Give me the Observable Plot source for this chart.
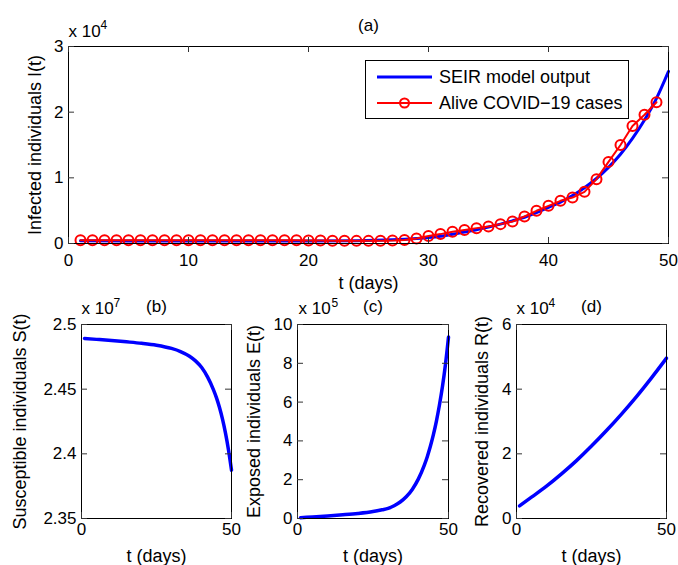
<!DOCTYPE html>
<html>
<head>
<meta charset="utf-8">
<script src="https://cdn.jsdelivr.net/npm/d3@7"></script>
<script src="https://cdn.jsdelivr.net/npm/@observablehq/plot@0.6"></script>
<style>
  body { margin: 0; background: white; }
  #root { position: relative; width: 678px; height: 565px; overflow: hidden; font-family: "Liberation Sans", Arial, Helvetica, sans-serif; }
  .panel { position: absolute; }
  #legend { position: absolute; left: 365px; top: 60px; }
</style>
</head>
<body>
<div id="root"></div>
<script>
// ---------- data ----------
// (a) infected: SEIR model output (blue) and alive COVID-19 cases (red)
const seirDays = [1,5,10,15,20,24,27,29,30,31,32,33,34,35,36,37,38,39,40,41,42,43,44,45,46,47,48,49,50];
const seirInfected = [400,380,370,370,380,420,560,760,900,1100,1400,1750,2100,2500,2950,3450,4000,4700,5500,6300,7300,8500,9900,11600,13600,16000,18800,22100,26200];
const caseDays = d3.range(1, 50);
const aliveCases = [500,510,510,510,510,510,510,510,510,510,510,510,510,510,510,510,500,500,480,470,
  450,420,410,400,400,410,440,520,760,1130,1430,1780,2040,2340,2590,2950,3350,4110,4980,5740,
  6500,7000,7870,9800,12430,15000,17900,19600,21500];
// (b) susceptible
const sDays = [1,5,10,15,20,25,30,33,36,38,40,42,44,45,46,47,48,49,50];
const susceptible = [24892000,24885000,24876000,24866000,24855000,24840000,24815000,24791000,24755000,24719000,24669000,24595000,24495000,24433000,24358000,24268000,24160000,24030000,23874000];
// (c) exposed
const eDays = [1,5,10,15,20,25,28,30,32,34,36,38,40,42,43,44,45,46,47,48,49,50];
const exposed = [4000,8000,13000,19000,26000,36000,45000,52000,66000,85000,112000,150000,203000,275000,320000,372000,432000,502000,585000,680000,795000,935000];
// (d) recovered
const rDays = [1,5,10,15,20,25,30,35,40,45,50];
const recovered = [3900,6600,10000,13800,17900,22400,27200,32300,37700,43500,49600];

// ticks
const xTicksTop = [0,10,20,30,40,50];
const yTicksTop = [0,10000,20000,30000];
const xTicksBottom = [0,50];
const yTicksS = [23500000,24000000,24500000,25000000];
const yTicksE = [0,200000,400000,600000,800000,1000000];
const yTicksR = [0,20000,40000,60000];

const FONT = '"Liberation Sans", Arial, Helvetica, sans-serif';
const BLUE = "#0000ff", RED = "#ff0000";

function panel(o) {
  const fw = o.width - o.ml - o.mr, fh = o.height - o.mt - o.mb;
  const tl = 6, tc = "#333";
  const marks = [
    ...o.marks,
    Plot.frame({stroke: "black", strokeWidth: 1}),
    Plot.ruleX(o.xt, {x: d => d, insetTop: fh - tl, stroke: tc}),
    Plot.ruleX(o.xt, {x: d => d, insetBottom: fh - tl, stroke: tc}),
    Plot.ruleY(o.yt, {y: d => d, insetRight: fw - tl, stroke: tc}),
    Plot.ruleY(o.yt, {y: d => d, insetLeft: fw - tl, stroke: tc}),
    Plot.axisX(o.xt, {tickSize: 0, tickPadding: o.xpad, label: null, fontSize: o.tickFont, fill: "black"}),
    Plot.axisY(o.yt, {tickSize: 0, tickPadding: 5, label: null, fontSize: o.tickFont, tickFormat: d => String(d / o.mult), fill: "black"}),
    Plot.text([o.ylabel], {text: d => d, frameAnchor: "left", textAnchor: "middle", rotate: -90, dx: o.ylabelDx, lineAnchor: "middle", fontSize: 18, fill: "black"}),
    Plot.text(["t (days)"], {text: d => d, frameAnchor: "bottom", textAnchor: "middle", dy: o.xlabelDy, lineAnchor: "middle", fontSize: 18, fill: "black"}),
    Plot.text([o.title], {text: d => d, frameAnchor: "top", textAnchor: "middle", dy: o.titleDy, lineAnchor: "middle", fontSize: 17, fill: "black"}),
    Plot.text(["x 10"], {text: d => d, frameAnchor: "top-left", textAnchor: "start", dx: o.multDx, dy: o.multDy, lineAnchor: "middle", fontSize: 17, fill: "black"}),
    Plot.text([o.exp], {text: d => d, frameAnchor: "top-left", textAnchor: "start", dx: o.expDx, dy: o.multDy - 6, lineAnchor: "middle", fontSize: 12, fill: "black"})
  ];
  const chart = Plot.plot({
    width: o.width, height: o.height,
    marginLeft: o.ml, marginRight: o.mr, marginTop: o.mt, marginBottom: o.mb,
    x: {domain: [0, 50], axis: null},
    y: {domain: o.ydomain, axis: null},
    style: {background: "transparent", fontFamily: FONT, overflow: "visible", color: "black"},
    marks
  });
  const div = document.createElement("div");
  div.className = "panel";
  div.style.left = o.left + "px";
  div.style.top = o.top + "px";
  div.appendChild(chart);
  document.getElementById("root").appendChild(div);
}

const seirData = seirDays.map((d, i) => ({t: d, v: seirInfected[i]}));
const caseData = caseDays.map((d, i) => ({t: d, v: aliveCases[i]}));

// (a)
panel({
  left: 0, top: 0, width: 678, height: 300, ml: 68, mr: 10, mt: 46, mb: 57,
  ydomain: [0, 30000], xt: xTicksTop, yt: yTicksTop, mult: 10000, exp: "4",
  xpad: 10, tickFont: 17,
  ylabel: "Infected individuals I(t)", ylabelDx: -33, xlabelDy: 40,
  title: "(a)", titleDy: -21, multDx: 0, multDy: -15, expDx: 32,
  marks: [
    Plot.line(seirData, {x: "t", y: "v", stroke: BLUE, strokeWidth: 3, curve: "monotone-x"}),
    Plot.line(caseData, {x: "t", y: "v", stroke: RED, strokeWidth: 2}),
    Plot.dot(caseData, {x: "t", y: "v", r: 5, stroke: RED, strokeWidth: 2, fill: "none"})
  ]
});

// (b)
panel({
  left: 0, top: 280, width: 241, height: 285, ml: 81, mr: 10, mt: 44, mb: 47,
  ydomain: [23500000, 25000000], xt: xTicksBottom, yt: yTicksS, mult: 1e7, exp: "7",
  xpad: 4.5, tickFont: 17,
  ylabel: "Susceptible individuals S(t)", ylabelDx: -61, xlabelDy: 38,
  title: "(b)", titleDy: -18, multDx: 0, multDy: -15.5, expDx: 32,
  marks: [
    Plot.line(sDays.map((d, i) => ({t: d, v: susceptible[i]})), {x: "t", y: "v", stroke: BLUE, strokeWidth: 3.5, curve: "monotone-x"})
  ]
});

// (c)
panel({
  left: 226, top: 280, width: 230, height: 285, ml: 71, mr: 8, mt: 44, mb: 47,
  ydomain: [0, 1000000], xt: xTicksBottom, yt: yTicksE, mult: 1e5, exp: "5",
  xpad: 4.5, tickFont: 17,
  ylabel: "Exposed individuals E(t)", ylabelDx: -43, xlabelDy: 38,
  title: "(c)", titleDy: -18, multDx: 1, multDy: -15.5, expDx: 34,
  marks: [
    Plot.line(eDays.map((d, i) => ({t: d, v: exposed[i]})), {x: "t", y: "v", stroke: BLUE, strokeWidth: 3.5, curve: "monotone-x"})
  ]
});

// (d)
panel({
  left: 448, top: 280, width: 230, height: 285, ml: 68, mr: 12, mt: 44, mb: 47,
  ydomain: [0, 60000], xt: xTicksBottom, yt: yTicksR, mult: 1e4, exp: "4",
  xpad: 4.5, tickFont: 17,
  ylabel: "Recovered individuals R(t)", ylabelDx: -34.5, xlabelDy: 38,
  title: "(d)", titleDy: -18, multDx: 0, multDy: -15.5, expDx: 32,
  marks: [
    Plot.line(rDays.map((d, i) => ({t: d, v: recovered[i]})), {x: "t", y: "v", stroke: BLUE, strokeWidth: 3.5, curve: "monotone-x"})
  ]
});

// legend
const legendItems = ["SEIR model output", "Alive COVID\u221219 cases"];
const lg = d3.create("svg").attr("width", 264).attr("height", 59)
  .style("font-family", FONT).style("font-size", "18px").style("overflow", "visible");
lg.append("rect").attr("x", 0.5).attr("y", 0.5).attr("width", 263).attr("height", 58)
  .attr("fill", "white").attr("stroke", "black");
lg.append("line").attr("x1", 12).attr("x2", 67).attr("y1", 17).attr("y2", 17)
  .attr("stroke", BLUE).attr("stroke-width", 3);
lg.append("line").attr("x1", 12).attr("x2", 67).attr("y1", 43).attr("y2", 43)
  .attr("stroke", RED).attr("stroke-width", 2);
lg.append("circle").attr("cx", 39.5).attr("cy", 43).attr("r", 4.5)
  .attr("stroke", RED).attr("stroke-width", 2).attr("fill", "none");
lg.selectAll("text.item").data(legendItems).join("text").attr("class", "item")
  .attr("x", 74).attr("y", (d, i) => 17 + i * 26).attr("dy", "0.35em").text(d => d);
const lgDiv = document.createElement("div");
lgDiv.id = "legend";
lgDiv.appendChild(lg.node());
document.getElementById("root").appendChild(lgDiv);
</script>
</body>
</html>
